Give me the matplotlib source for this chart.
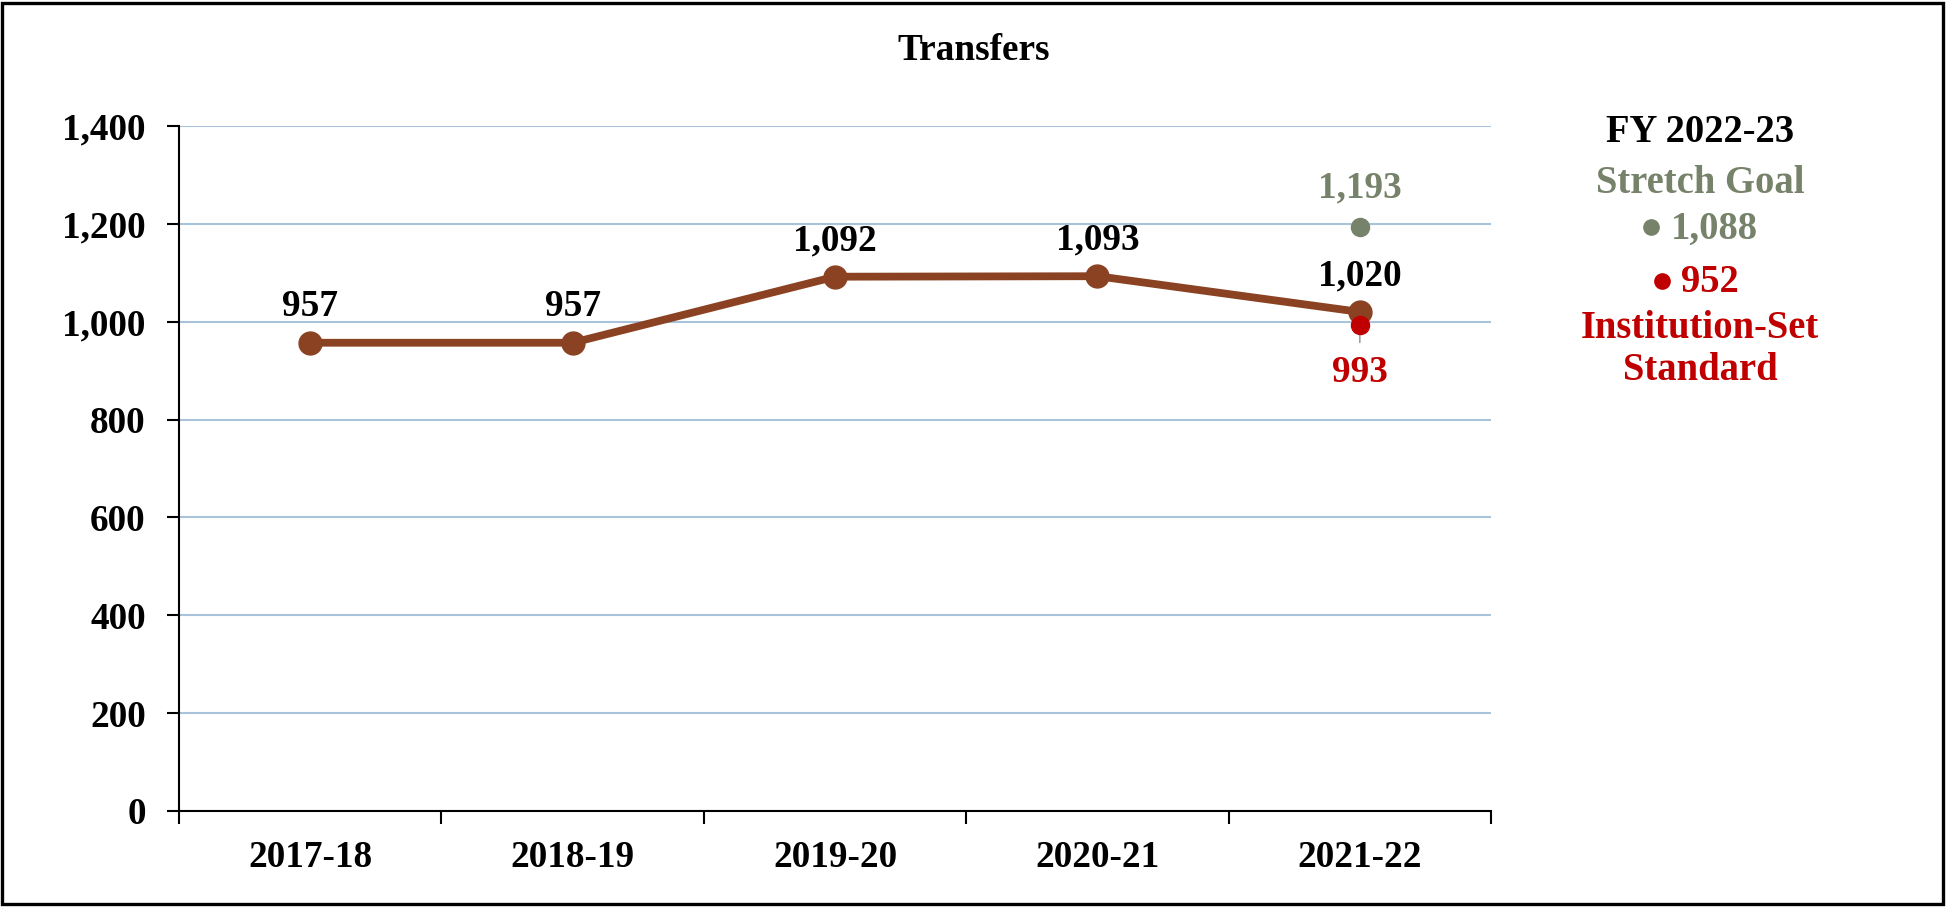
import matplotlib
matplotlib.use("Agg")
import matplotlib.pyplot as plt
from matplotlib.lines import Line2D
from matplotlib.patches import Rectangle
from matplotlib.ticker import FuncFormatter

# data
years = ["2017-18", "2018-19", "2019-20", "2020-21", "2021-22"]
transfers = [957, 957, 1092, 1093, 1020]
stretch_goal_2122 = 1193
inst_standard_2122 = 993
fy_label = "FY 2022-23"
fy_stretch_goal = 1088
fy_inst_standard = 952

LINE_C = "#8B4223"
GOAL_C = "#76826A"
STD_C = "#C00000"
GRID_C = "#A9C3DA"
FS = 26.8
FS_SIDE = 27.8

plt.rcParams["font.family"] = ["Liberation Serif", "DejaVu Serif"]
plt.rcParams["font.weight"] = "bold"

W, H = 1947, 908
fig = plt.figure(figsize=(W / 100, H / 100), dpi=100)
ax = fig.add_axes([179 / W, 1 - 811 / H, (1491 - 179) / W, (811 - 126) / H])

x = list(range(len(years)))
ax.plot(x, transfers, color=LINE_C, lw=5.6, marker="o", ms=16.5, zorder=4)
for xi, v in zip(x, transfers):
    ax.annotate(f"{v:,}", (xi, v), xytext=(0, 26), textcoords="offset points",
                ha="center", va="center", fontsize=FS, fontweight="bold", color="black")

# 2021-22 goal / standard markers
last = x[-1]
ax.plot([last], [stretch_goal_2122], "o", color=GOAL_C, ms=13, zorder=5)
ax.annotate(f"{stretch_goal_2122:,}", (last, stretch_goal_2122), xytext=(0, 28),
            textcoords="offset points", ha="center", va="center",
            fontsize=FS, fontweight="bold", color=GOAL_C)
ax.plot([last], [inst_standard_2122], "o", color=STD_C, ms=13, zorder=6)
ax.annotate(f"{inst_standard_2122:,}", (last, inst_standard_2122), xytext=(0, -34),
            textcoords="offset points", ha="center", va="center",
            fontsize=FS, fontweight="bold", color=STD_C,
            arrowprops=dict(arrowstyle="-", color="#A0A0A0", lw=1.2, shrinkA=7, shrinkB=0),
            zorder=3)

ax.set_xlim(-0.5, len(years) - 0.5)
ax.set_ylim(0, 1400)
ax.set_yticks(range(0, 1401, 200))
ax.yaxis.set_major_formatter(FuncFormatter(lambda v, _: f"{int(v):,}"))
ax.yaxis.grid(True, color=GRID_C, lw=1.5)
ax.set_axisbelow(True)

# category boundaries as ticks, labels centered
ax.set_xticks([i - 0.5 for i in range(len(years) + 1)])
ax.set_xticklabels([])
ax.set_xticks(x, minor=True)
ax.set_xticklabels(years, minor=True)
ax.tick_params(axis="x", which="major", length=9, width=1.5, direction="out")
ax.tick_params(axis="x", which="minor", length=0, pad=21, labelsize=FS)
ax.tick_params(axis="y", length=9, width=1.5, direction="out", pad=15, labelsize=FS)
for lab in ax.get_xticklabels(minor=True) + ax.get_yticklabels():
    lab.set_fontweight("bold")

for s in ("top", "right"):
    ax.spines[s].set_visible(False)
for s in ("left", "bottom"):
    ax.spines[s].set_linewidth(1.5)

fig.text(0.5, 1 - 50 / H, "Transfers", ha="center", va="center",
         fontsize=FS, fontweight="bold")

# right-side FY targets
cx = 1700 / W
fig.text(cx, 1 - 132 / H, fy_label, ha="center", va="center", fontsize=FS_SIDE, fontweight="bold")
fig.text(cx, 1 - 183 / H, "Stretch Goal", ha="center", va="center", fontsize=FS_SIDE,
         fontweight="bold", color=GOAL_C)
fig.text(1671 / W, 1 - 229 / H, f"{fy_stretch_goal:,}", ha="left", va="center",
         fontsize=FS_SIDE, fontweight="bold", color=GOAL_C)
fig.add_artist(Line2D([1651 / W], [1 - 227 / H], marker="o", ms=11, color=GOAL_C,
                      transform=fig.transFigure))
fig.text(1681 / W, 1 - 283 / H, f"{fy_inst_standard:,}", ha="left", va="center",
         fontsize=FS_SIDE, fontweight="bold", color=STD_C)
fig.add_artist(Line2D([1662 / W], [1 - 281 / H], marker="o", ms=11, color=STD_C,
                      transform=fig.transFigure))
fig.text(cx, 1 - 329 / H, "Institution-Set", ha="center", va="center", fontsize=FS_SIDE,
         fontweight="bold", color=STD_C)
fig.text(cx, 1 - 371 / H, "Standard", ha="center", va="center", fontsize=FS_SIDE,
         fontweight="bold", color=STD_C)

# outer frame
fig.patches.append(Rectangle((2 / W, 4 / H), (1943 - 2) / W, (H - 7) / H,
                             transform=fig.transFigure, fill=False,
                             edgecolor="black", lw=2.4))

fig.savefig("out.png", dpi=100)
